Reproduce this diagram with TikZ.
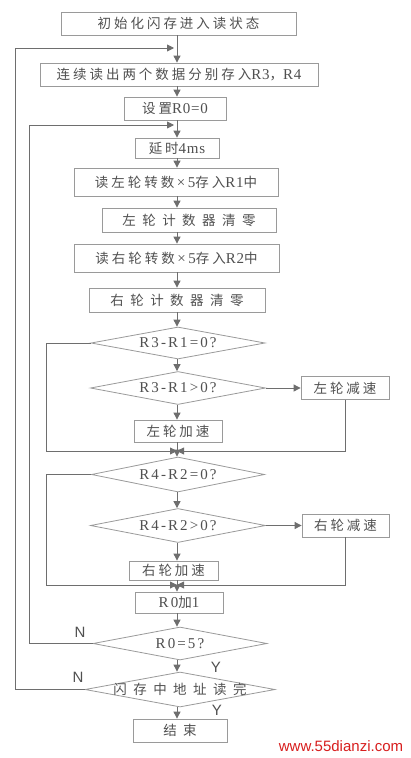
\documentclass[tikz,border=0pt]{standalone}
\usepackage{fontspec}
\setmainfont{Liberation Serif}
\newfontfamily\cjkfam[LetterSpace=22]{Noto Sans CJK SC}
\newfontfamily\cjkwide[LetterSpace=48]{Noto Sans CJK SC}
\newfontfamily\latfam[LetterSpace=5]{Liberation Serif}
\newfontfamily\latwide[LetterSpace=14]{Liberation Serif}
\newfontfamily\sansfam{Liberation Sans}
\newcommand\myzh[1]{{\fontsize{13.5}{16}\cjkfam #1}}
\newcommand\myzhw[1]{{\fontsize{13.5}{16}\cjkwide #1}}
\newcommand\myen[1]{{\fontsize{15}{17}\latfam #1}}
\newcommand\myenw[1]{{\fontsize{15}{17}\latwide #1}}
\usetikzlibrary{shapes.geometric,arrows.meta}
\definecolor{boxc}{HTML}{9A9A9A}
\definecolor{linec}{HTML}{6E6E6E}
\definecolor{txtc}{HTML}{505050}
\definecolor{wmred}{HTML}{D81E1E}
\begin{document}
\begin{tikzpicture}[x=1pt,y=-1pt,
  box/.style={draw=boxc,line width=0.8pt,inner sep=0pt,text=txtc},
  dia/.style={diamond,draw=boxc,line width=0.8pt,inner sep=0pt},
  dtxt/.style={text=txtc,inner sep=0pt},
  arr/.style={draw=linec,line width=0.9pt,-{Triangle[length=7pt,width=7pt]}},
  ln/.style={draw=linec,line width=0.9pt},
  yn/.style={text=txtc,font=\fontsize{15}{17}\sansfam,inner sep=0pt}]
\useasboundingbox[fill=white] (0,0) rectangle (411,758);
\coordinate (col) at (177,0);
% boxes
\node[box,minimum width=235pt,minimum height=23pt] (b1) at (178.5,23.5) {\myzh{初始化闪存进入读状态}};
\node[box,minimum width=278pt,minimum height=23pt] (b2) at (179,74.5) {\myzh{连续读出两个数据分别存入}\myen{R3}\myzh{，}\myen{R4}};
\node[box,minimum width=102pt,minimum height=23pt] (b3) at (175,108.5) {\myzh{设置}\myen{R0=0}};
\node[box,minimum width=84pt,minimum height=20pt] (b4) at (177,148) {\myzh{延时}\myen{4ms}};
\node[box,minimum width=204pt,minimum height=28pt] (b5) at (176,182) {\myzh{读左轮转数}\myen{\,×\,5}\myzh{存入}\myen{R1}\myzh{中}};
\node[box,minimum width=174pt,minimum height=24pt] (b6) at (189,220) {\myzhw{左轮计数器清零}};
\node[box,minimum width=205pt,minimum height=28pt] (b7) at (176.5,258) {\myzh{读右轮转数}\myen{\,×\,5}\myzh{存入}\myen{R2}\myzh{中}};
\node[box,minimum width=176pt,minimum height=24pt] (b8) at (177,300) {\myzhw{右轮计数器清零}};
\node[dia,minimum width=174pt,minimum height=32pt,label={[dtxt]center:\myenw{R3-R1=0?}}] (d1) at (178,343) {};
\node[dia,minimum width=175pt,minimum height=33pt,label={[dtxt]center:\myenw{R3-R1>0?}}] (d2) at (178,388) {};
\node[box,minimum width=88pt,minimum height=23pt] (s1) at (345,388) {\myzh{左轮减速}};
\node[box,minimum width=88pt,minimum height=22pt] (a1) at (178,431) {\myzh{左轮加速}};
\node[dia,minimum width=173pt,minimum height=35pt,label={[dtxt]center:\myenw{R4-R2=0?}}] (d3) at (178,474.5) {};
\node[dia,minimum width=175pt,minimum height=34pt,label={[dtxt]center:\myenw{R4-R2>0?}}] (d4) at (178,525.5) {};
\node[box,minimum width=87pt,minimum height=23pt] (s2) at (345.5,525.5) {\myzh{右轮减速}};
\node[box,minimum width=89pt,minimum height=19pt] (a2) at (173.5,570.5) {\myzh{右轮加速}};
\node[box,minimum width=88pt,minimum height=21pt] (r0) at (179,602.5) {\myenw{R0}\myzh{加}\myenw{1}};
\node[dia,minimum width=174pt,minimum height=33pt,label={[dtxt]center:\myenw{R0=5?}}] (d5) at (180,643.5) {};
\node[dia,minimum width=190pt,minimum height=35pt,label={[dtxt]center:\myzhw{闪存中地址读完}}] (d6) at (180,689.5) {};
\node[box,minimum width=94pt,minimum height=23pt] (e) at (180,730.5) {\myzhw{结束}};
% labels
\node[yn] (n1) at (80,632) {N};
\node[yn] (n2) at (78,677) {N};
\node[yn] (y1) at (216,667) {Y};
\node[yn] (y2) at (217,710) {Y};
\node[text=wmred,font=\fontsize{15}{17}\sansfam,inner sep=0pt] (wm) at (341,746) {www.55dianzi.com};
% coordinates for loops and merges
\coordinate (o1) at (15,48);
\coordinate (i1) at (29,125);
\coordinate (lx) at (46,0);
\coordinate (m1) at (177,451);
\coordinate (m2) at (177,585);
% main vertical arrows
\draw[arr] (b1.south -| col) -- (b2.north -| col);
\draw[arr] (b2.south -| col) -- (b3.north -| col);
\draw[arr] (b3.south -| col) -- (b4.north -| col);
\draw[arr] (b4.south -| col) -- (b5.north -| col);
\draw[arr] (b5.south -| col) -- (b6.north -| col);
\draw[arr] (b6.south -| col) -- (b7.north -| col);
\draw[arr] (b7.south -| col) -- (b8.north -| col);
\draw[arr] (b8.south -| col) -- (d1.north -| col);
\draw[arr] (d1.south -| col) -- (d2.north -| col);
\draw[arr] (d2.south -| col) -- (a1.north -| col);
\draw[arr] (d2.east) -- (s1.west);
\draw[arr] (d1.west) -| (lx |- m1) -- (m1);
\draw[arr] (s1.south) |- (m1);
\draw[ln] (a1.south -| col) -- (m1);
\draw[arr] (m1) -- (d3.north -| col);
\draw[arr] (d3.south -| col) -- (d4.north -| col);
\draw[arr] (d4.east) -- (s2.west);
\draw[arr] (d4.south -| col) -- (a2.north -| col);
\draw[arr] (d3.west) -| (lx |- m2) -- (m2);
\draw[arr] (s2.south) |- (m2);
\draw[ln] (a2.south -| col) -- (m2);
\draw[arr] (m2) -- (r0.north -| col);
\draw[arr] (r0.south -| col) -- (d5.north -| col);
\draw[arr] (d5.south -| col) -- (d6.north -| col);
\draw[arr] (d6.south -| col) -- (e.north -| col);
% loops
\draw[arr,shorten >=3pt] (d5.west) -| (i1) -- (i1 -| col);
\draw[arr,shorten >=3pt] (d6.west) -| (o1) -- (o1 -| col);
\end{tikzpicture}
\end{document}
